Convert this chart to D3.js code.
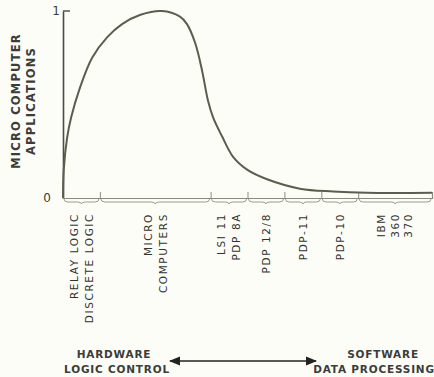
<!DOCTYPE html>
<html>
<head>
<meta charset="utf-8">
<script src="https://cdn.jsdelivr.net/npm/d3@7"></script>
<style>
  html, body { margin: 0; padding: 0; background: #fdfdf7; }
  svg { display: block; }
  text { font-family: "DejaVu Sans", sans-serif; fill: #3c3c38; }
</style>
</head>
<body>
<div id="chart"></div>
<script>
// category boundaries along the x axis (ticks)
var boundaries = [0, 1, 4, 5, 6, 7, 8, 10];
var categoryLabels = [
  ['RELAY LOGIC', 'DISCRETE LOGIC'],
  ['MICRO', 'COMPUTERS'],
  ['LSI 11', 'PDP 8A'],
  ['PDP 12/8'],
  ['PDP-11'],
  ['PDP-10'],
  ['IBM', '360', '370']
];
// curve
var curveX = [0, 0.02, 0.11, 0.22, 0.46, 0.79, 1.2, 1.6, 2.1, 2.68, 3.17, 3.36, 3.58, 3.76, 3.93, 4.07, 4.31, 4.61, 5.0, 5.53, 6.42, 7.32, 8.24, 10];
var curveY = [0, 0.15, 0.32, 0.43, 0.59, 0.75, 0.86, 0.93, 0.98, 1.0, 0.97, 0.93, 0.83, 0.69, 0.52, 0.43, 0.33, 0.22, 0.15, 0.10, 0.05, 0.035, 0.028, 0.028];
var yTicks = [0, 1];
var yTitle = ['MICRO COMPUTER', 'APPLICATIONS'];

var width = 434, height = 377;
var svg = d3.select('#chart').append('svg')
  .attr('width', width)
  .attr('height', height);

var x = d3.scaleLinear().domain([0, 10]).range([63, 432]);
var y = d3.scaleLinear().domain([0, 1]).range([198, 11]);
var ink = '#4a4b42';

// y axis
var yAxis = svg.append('g')
  .attr('transform', 'translate(' + x(0) + ',0)')
  .call(d3.axisLeft(y).tickValues(yTicks).tickSize(0).tickPadding(9).tickFormat(d3.format('d')));
yAxis.select('.domain').attr('stroke', ink).attr('stroke-width', 1.6);
yAxis.selectAll('text')
  .style('font-size', '12px')
  .attr('x', function(d) { return d === 0 ? -12 : -3; });
svg.append('line')
  .attr('x1', x(0)).attr('x2', x(0) + 7)
  .attr('y1', y(1)).attr('y2', y(1))
  .attr('stroke', ink).attr('stroke-width', 1.4);

// x axis
var xAxis = svg.append('g')
  .attr('transform', 'translate(0,' + y(0) + ')')
  .call(d3.axisTop(x).tickValues(boundaries.slice(1, -1)).tickSize(6).tickFormat(''));
xAxis.select('.domain').attr('stroke', '#8a8b80').attr('stroke-width', 1.2);
xAxis.selectAll('.tick line').attr('stroke', '#8a8b80').attr('stroke-width', 1);

// braces under each category
var braces = svg.append('g');
for (var i = 0; i < boundaries.length - 1; i++) {
  var x1 = x(boundaries[i]) + 1, x2 = x(boundaries[i + 1]) - 1, m = (x1 + x2) / 2;
  var b = y(0) + 1, c = y(0) + 4;
  braces.append('path')
    .attr('d', 'M' + x1 + ',' + b + ' Q' + x1 + ',' + c + ' ' + (x1 + 4) + ',' + c +
      ' L' + (m - 4) + ',' + c + ' Q' + m + ',' + c + ' ' + m + ',' + (c + 2) +
      ' Q' + m + ',' + c + ' ' + (m + 4) + ',' + c +
      ' L' + (x2 - 4) + ',' + c + ' Q' + x2 + ',' + c + ' ' + x2 + ',' + b)
    .attr('fill', 'none')
    .attr('stroke', '#9a9b90')
    .attr('stroke-width', 1);
}

// category labels, rotated
categoryLabels.forEach(function(lines, i) {
  var cx = x((boundaries[i] + boundaries[i + 1]) / 2);
  var gap = lines.length === 3 ? 13.5 : 15;
  lines.forEach(function(t, j) {
    var lx = cx + (j - (lines.length - 1) / 2) * gap;
    svg.append('text')
      .attr('transform', 'translate(' + lx + ',213) rotate(-90)')
      .attr('text-anchor', 'end')
      .attr('dy', '0.36em')
      .style('font-size', '10.5px')
      .style('letter-spacing', '1.6px')
      .style('fill', '#33332f')
      .text(t);
  });
});

// curve
var line = d3.line()
  .x(function(d) { return x(d[0]); })
  .y(function(d) { return y(d[1]); })
  .curve(d3.curveCatmullRom.alpha(0.5));
svg.append('path')
  .datum(d3.zip(curveX, curveY))
  .attr('d', line)
  .attr('fill', 'none')
  .attr('stroke', '#5b5d4e')
  .attr('stroke-width', 2);

// y title
yTitle.forEach(function(t, j) {
  svg.append('text')
    .attr('transform', 'translate(' + (16 + j * 15) + ',101) rotate(-90)')
    .attr('text-anchor', 'middle')
    .attr('dy', '0.36em')
    .style('font-size', '11.5px')
    .style('font-weight', 'bold')
    .style('letter-spacing', '1.2px')
    .text(t);
});

// bottom annotation
var notes = [
  { t: 'HARDWARE', x: 114, y: 358 },
  { t: 'LOGIC CONTROL', x: 117, y: 373 },
  { t: 'SOFTWARE', x: 383, y: 358 },
  { t: 'DATA PROCESSING', x: 374, y: 373 }
];
svg.selectAll('text.note').data(notes).enter().append('text')
  .attr('class', 'note')
  .attr('x', function(d) { return d.x; })
  .attr('y', function(d) { return d.y; })
  .attr('text-anchor', 'middle')
  .style('font-size', '10.5px')
  .style('font-weight', 'bold')
  .style('letter-spacing', '0.8px')
  .text(function(d) { return d.t; });

var defs = svg.append('defs');
defs.append('marker').attr('id', 'ah')
  .attr('viewBox', '0 0 10 10').attr('refX', 9).attr('refY', 5)
  .attr('markerWidth', 7).attr('markerHeight', 7).attr('orient', 'auto-start-reverse')
  .append('path').attr('d', 'M0,1 L10,5 L0,9 Z').attr('fill', '#222');
svg.append('line')
  .attr('x1', 170).attr('x2', 316).attr('y1', 361).attr('y2', 361)
  .attr('stroke', '#222').attr('stroke-width', 1.6)
  .attr('marker-start', 'url(#ah)').attr('marker-end', 'url(#ah)');
</script>
</body>
</html>
